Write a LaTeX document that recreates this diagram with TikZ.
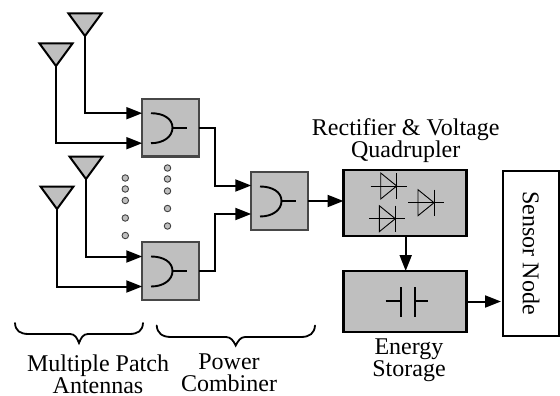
\documentclass[tikz,border=0pt]{standalone}
\usepackage{fontspec}
\setmainfont{Liberation Serif}
\usetikzlibrary{arrows.meta,calc}
\tikzset{
  combox/.style={draw=black!72,fill=black!25,line width=2.1pt,minimum width=56.5pt,minimum height=57.5pt,inner sep=0pt,outer sep=0pt},
  bigbox/.style={draw=black,fill=black!25,line width=2.2pt,inner sep=0pt,outer sep=0pt},
  conn/.style={draw=black,line width=2pt,-{Triangle[length=16pt,width=12pt]},shorten >=0pt},
  sym/.style={draw=black,line width=1.9pt},
  thin sym/.style={draw=black,line width=0.9pt},
  antenna/.style={draw=black,fill=black!25,line width=2pt,line join=miter},
  dotmark/.style={circle,draw=black!75,fill=black!25,line width=0.9pt,minimum size=6.5pt,inner sep=0pt},
  lab/.style={font=\fontsize{24pt}{22pt}\selectfont,align=center,inner sep=0pt},
  brace/.style={draw=black,line width=1.8pt,line cap=round}
}
\newcommand{\antennaat}[1]{\path[antenna] (#1) -- ++(-16.5,-22.5) -- ++(33,0) -- cycle;}
\newcommand{\orsym}[1]{%
  \draw[sym] ($(#1.center)+(-19.5,-14.5)$) .. controls ($(#1.center)+(-7,-14.5)$) and ($(#1.center)+(2,-9)$) .. ($(#1.center)+(2,0)$)
     .. controls ($(#1.center)+(2,9)$) and ($(#1.center)+(-7,15.5)$) .. ($(#1.center)+(-19.5,15.5)$);
  \draw[sym] ($(#1.center)+(2,0)$) -- ($(#1.center)+(16,0)$);}
\newcommand{\diode}[2]{%
  \draw[thin sym] (#1,#2) ++(-10,0) -- ++(36,0);
  \draw[thin sym] (#1,#2) ++(0,-13) -- ++(0,26) -- ++(16,-13) -- cycle;
  \draw[thin sym] (#1,#2) ++(16,-13) -- ++(0,26);}
\begin{document}
\begin{tikzpicture}[x=1pt,y=-1pt]
\useasboundingbox[fill=white] (0,0) rectangle (560,396);
% boxes
\node[combox] (c1) at (170.5,127.7) {};
\node[combox] (c2) at (170.5,271) {};
\node[combox] (c3) at (279.5,201) {};
\node[bigbox,minimum width=123pt,minimum height=65.5pt] (rect) at (405,203) {};
\node[bigbox,minimum width=123pt,minimum height=61pt] (store) at (405,301.5) {};
\node[draw=black,fill=white,line width=2.1pt,rotate=-90,minimum width=164.5pt,minimum height=56pt,inner sep=0pt,outer sep=0pt,font=\fontsize{24pt}{22pt}\selectfont] (sensor) at (531,253.3) {Sensor Node};
% antennas
\coordinate (a1) at (85,36);
\coordinate (a2) at (56,66);
\coordinate (a3) at (86,179);
\coordinate (a4) at (57,209);
\antennaat{a1}\antennaat{a2}\antennaat{a3}\antennaat{a4}
% connectors
\draw[conn] (a1) |- ($(c1.west)+(0,-14.5)$);
\draw[conn] (a2) |- ($(c1.west)+(0,15.5)$);
\draw[conn] (a3) |- ($(c2.west)+(0,-14.5)$);
\draw[conn] (a4) |- ($(c2.west)+(0,15.5)$);
\draw[conn] (c1.east) -- ++(16,0) |- ($(c3.west)+(0,-15.5)$);
\draw[conn] (c2.east) -- ++(16,0) |- ($(c3.west)+(0,13)$);
\draw[conn] (c3.east) -- (rect.west |- c3.east);
\draw[conn] ($(rect.south)+(0.7,0)$) -- ($(store.north)+(0.7,0)$);
\draw[conn] (store.east) -- ($(sensor.south |- store.east)+(-2,0)$);
% symbols
\orsym{c1}\orsym{c2}\orsym{c3}
\diode{380.7}{186}
\diode{418}{202.7}
\diode{379.3}{218.7}
\draw[sym] (385.7,301) -- (400.7,301) (400.7,287) -- (400.7,317) (415,287) -- (415,317) (415,301) -- (428,301);
% dots
\foreach \yy/\n in {178/a,189/b,200.5/c,218/d,235.5/e} \node[dotmark] (d1\n) at (125.3,\yy) {};
\foreach \yy/\n in {168/a,179/b,191/c,208.5/d,226/e} \node[dotmark] (d2\n) at (167.5,\yy) {};
% braces
\draw[brace] (15,323) .. controls (15.5,331) and (20,334) .. (29,334) -- (70,334) .. controls (75,334) and (77,338) .. (79,343)
  .. controls (81,338) and (83,334) .. (88,334) -- (129,334) .. controls (138,334) and (142.5,331) .. (143,323);
\draw[brace] (156.7,325.5) .. controls (157.2,333) and (162,337) .. (171,337) -- (226,337) .. controls (231,337) and (233.5,341) .. (235.7,345.5)
  .. controls (238,341) and (240.5,337) .. (245,337) -- (301,337) .. controls (310,337) and (314.5,333) .. (315,325.5);
% labels
\node[lab] (t1) at (405.7,140.5) {Rectifier \& Voltage\\Quadrupler};
\node[lab] (t2) at (98,374) {Multiple Patch\\Antennas};
\node[lab] (t3) at (229,372.5) {Power\\Combiner};
\node[lab] (t4) at (409,360) {Energy\\Storage};
\end{tikzpicture}
\end{document}
